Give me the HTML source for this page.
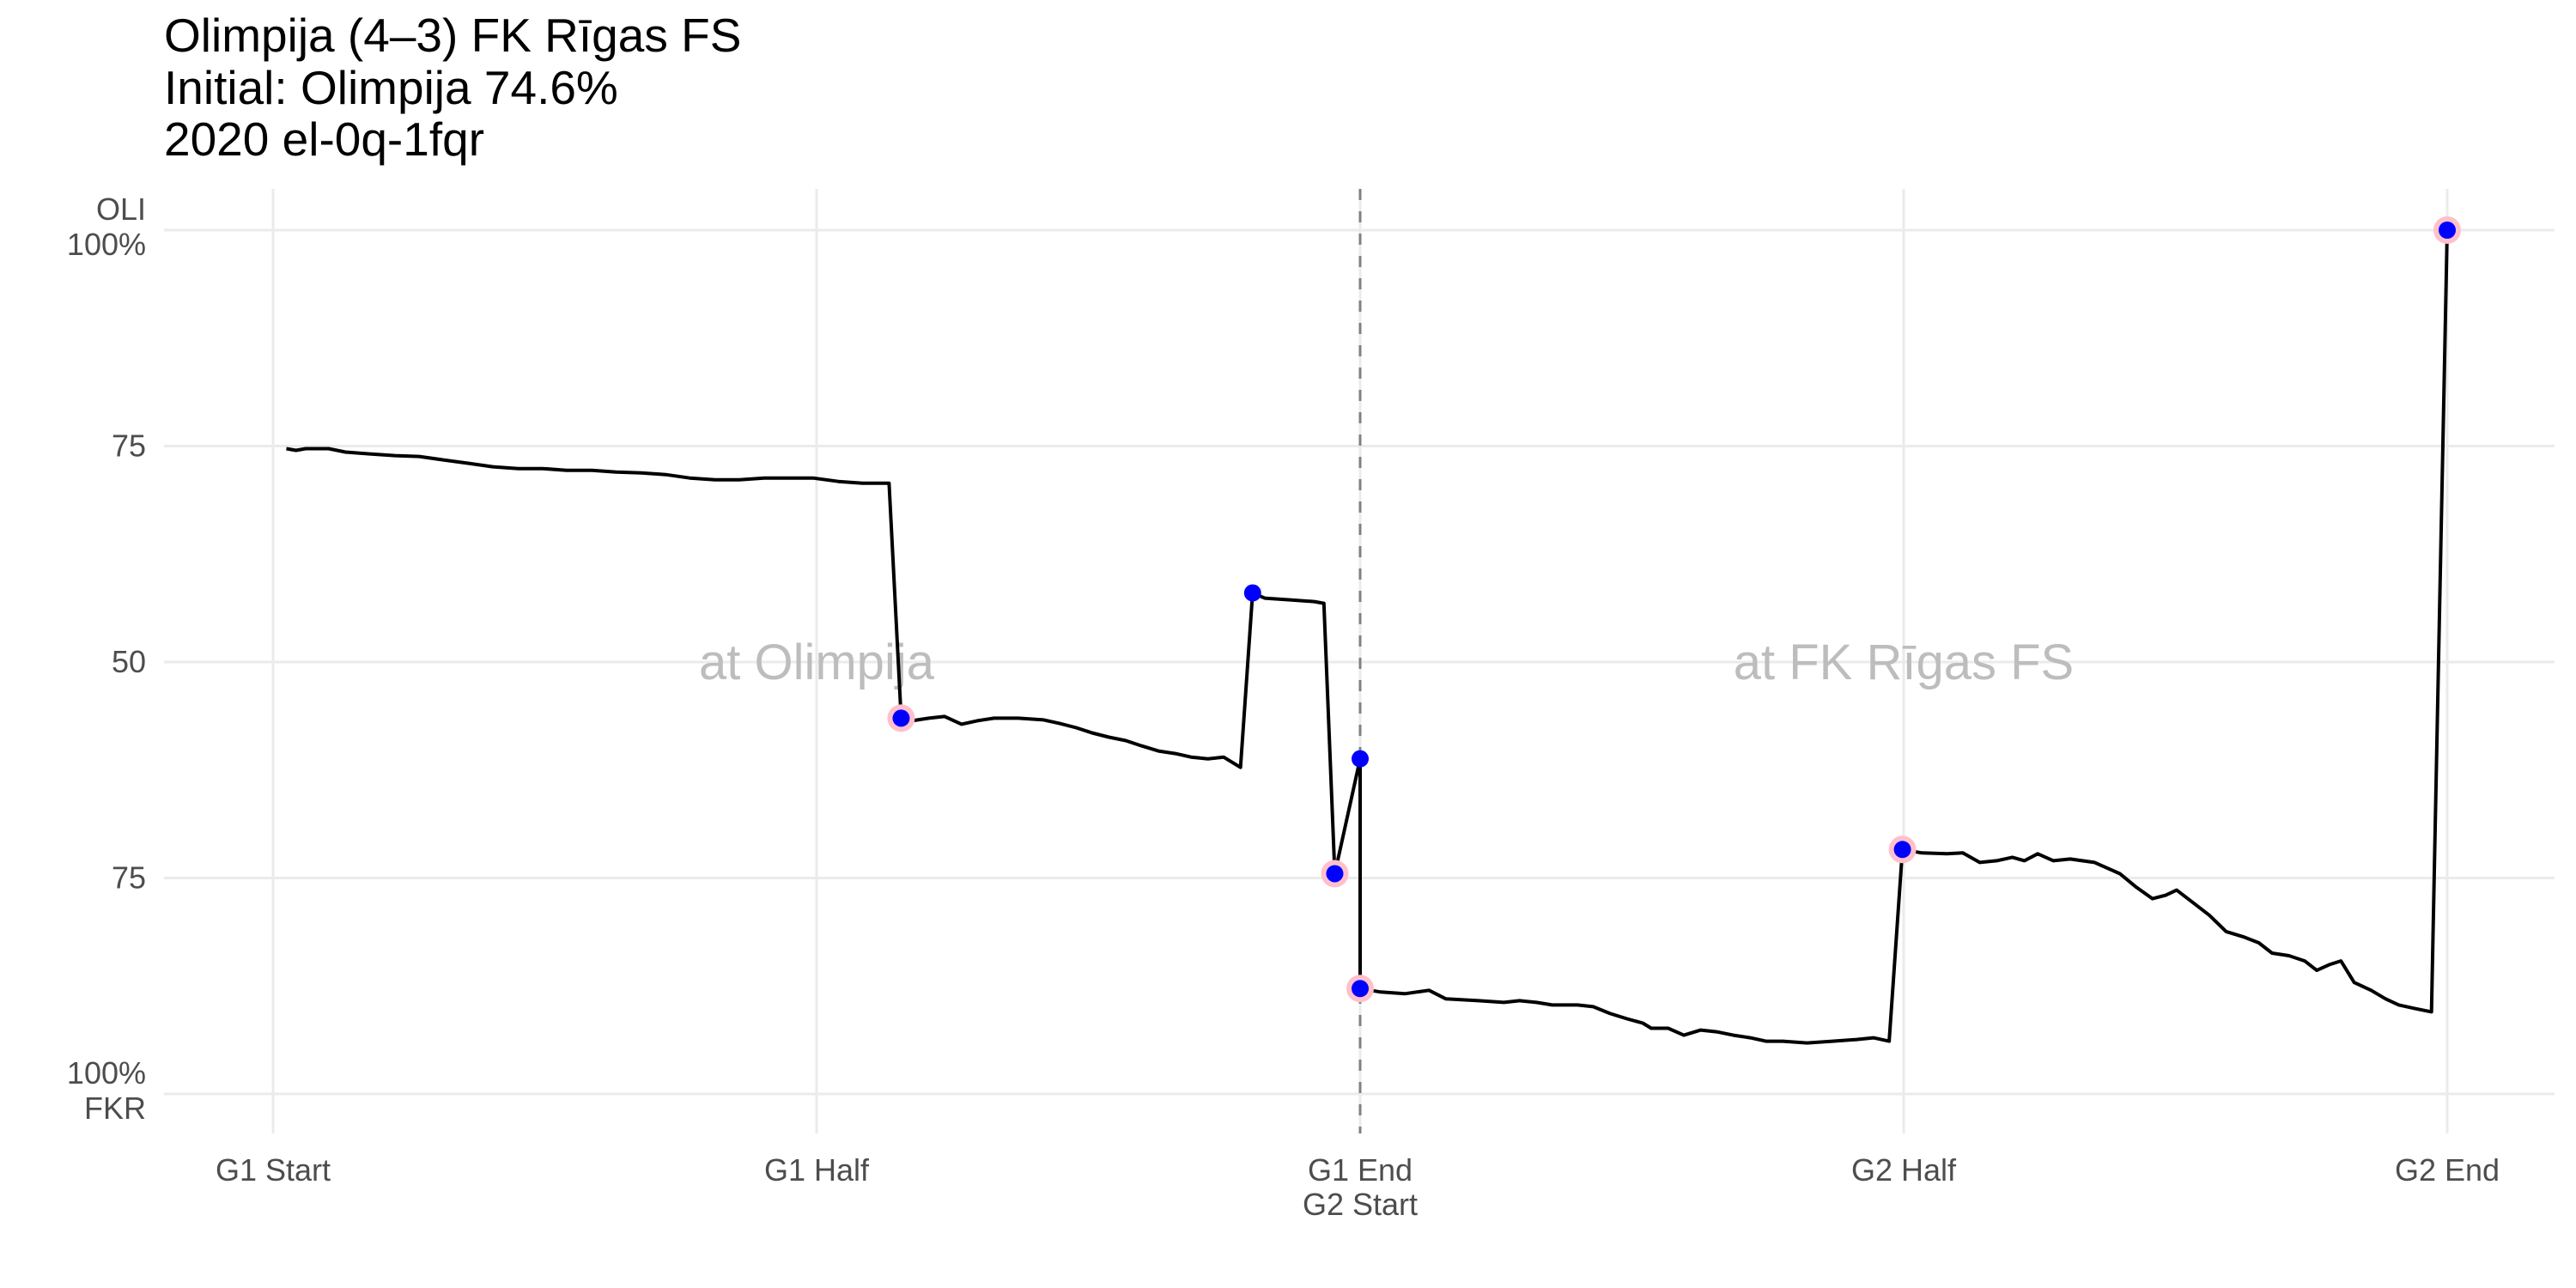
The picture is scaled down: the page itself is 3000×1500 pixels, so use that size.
<!DOCTYPE html>
<html><head><meta charset="utf-8"><style>
html,body{margin:0;padding:0;background:#fff;}
svg{display:block;font-family:"Liberation Sans",sans-serif;}
</style></head><body>
<svg id="chart" width="3000" height="1500" viewBox="0 0 3000 1500">
<g>
<text x="191" y="60" font-size="55" fill="#000">Olimpija (4–3) FK Rīgas FS</text>
<text x="191" y="121" font-size="55" fill="#000">Initial: Olimpija 74.6%</text>
<text x="191" y="181" font-size="55" fill="#000">2020 el-0q-1fqr</text>
</g>
<g id="grid"></g>
<g id="annot"></g>
<g id="axes"></g>
<g id="series"></g>
</svg>
<script>
const xTickVals=[0,45,90,135,180];
const xTickLabels=[["G1 Start"],["G1 Half"],["G1 End","G2 Start"],["G2 Half"],["G2 End"]];
const yTickVals=[100,75,50,25,0];
const yTickLabels=[["OLI","100%"],["75"],["50"],["75"],["100%","FKR"]];
const minutes=[1.1,1.9,2.7,4.6,6.0,8.0,10.1,12.1,14.1,16.2,18.2,20.3,22.3,24.3,26.4,28.4,30.5,32.5,34.5,36.6,38.6,40.7,42.7,44.7,46.8,48.8,51.0,52.0,52.9,54.3,55.6,57.0,58.3,59.7,61.7,63.8,65.1,66.5,67.8,69.2,70.6,71.9,73.3,74.7,76.0,77.4,78.7,80.1,81.1,82.1,84.2,86.2,87.0,87.9,90.0,90.0,91.7,93.7,95.7,97.1,99.8,101.9,103.2,104.6,105.9,108.0,109.3,110.7,112.1,113.4,114.1,115.5,116.8,118.2,119.5,120.9,122.3,123.6,125.0,127.0,129.1,131.1,132.5,133.8,134.9,136.5,138.6,139.9,141.3,142.7,144.0,145.0,146.1,147.4,148.8,150.8,152.9,154.2,155.6,156.7,157.6,159.0,160.3,161.7,163.1,164.4,165.5,166.9,168.2,169.2,170.3,171.2,172.3,173.7,174.9,176.0,177.3,178.7,180.0];
const winProb=[74.7,74.5,74.7,74.7,74.3,74.1,73.9,73.8,73.4,73.0,72.6,72.4,72.4,72.2,72.2,72.0,71.9,71.7,71.3,71.1,71.1,71.3,71.3,71.3,70.9,70.7,70.7,43.5,43.2,43.5,43.7,42.8,43.2,43.5,43.5,43.3,42.9,42.4,41.8,41.3,40.9,40.3,39.7,39.4,39.0,38.8,39.0,37.8,58.0,57.4,57.2,57.0,56.8,25.5,38.8,12.2,11.8,11.6,12.0,11.0,10.8,10.6,10.8,10.6,10.3,10.3,10.1,9.3,8.7,8.2,7.6,7.6,6.8,7.4,7.2,6.8,6.5,6.1,6.1,5.9,6.1,6.3,6.5,6.1,28.3,27.9,27.8,27.9,26.8,27.0,27.4,27.0,27.8,27.0,27.2,26.8,25.5,24.0,22.6,23.0,23.6,22.1,20.7,18.8,18.2,17.5,16.3,16.0,15.4,14.3,15.0,15.4,12.9,12.0,11.0,10.3,9.9,9.5,100];
const goalMinutes=[52.0,81.1,87.9,90.0,90.0,134.9,180.0];
const goalProb=[43.5,58.0,25.5,38.8,12.2,28.3,100];
const goalPink=[true,false,true,false,true,true,true];
const venueLabels=["at Olimpija","at FK Rīgas FS"];
const venueMinutes=[45,135];

const NS="http://www.w3.org/2000/svg";
const X0=191,X1=2975,Y0=220,Y1=1320;
function sx(t){return 318+t*(2850-318)/180;}
function sy(p){return 1274-p*(1274-268)/100;}
function mk(tag,attrs,parent){const e=document.createElementNS(NS,tag);for(const k in attrs)e.setAttribute(k,attrs[k]);parent.appendChild(e);return e;}
const grid=document.getElementById('grid'),axes=document.getElementById('axes'),ser=document.getElementById('series'),ann=document.getElementById('annot');
xTickVals.forEach((v,i)=>{
  const l=mk('line',{x1:sx(v),x2:sx(v),y1:Y0,y2:Y1,stroke:'#ebebeb','stroke-width':3},grid);
  
  
  xTickLabels[i].forEach((s,j)=>{
    const t=mk('text',{x:sx(v),y:1375+j*40,'font-size':36,fill:'#4d4d4d','text-anchor':'middle'},axes);
    t.textContent=s;
    
    
  });
});
yTickVals.forEach((v,i)=>{
  const l=mk('line',{x1:X0,x2:X1,y1:sy(v),y2:sy(v),stroke:'#ebebeb','stroke-width':3},grid);
  
  
  const lab=yTickLabels[i];
  const base=lab.length===1?sy(v)+12:sy(v)-12;
  lab.forEach((s,j)=>{
    const t=mk('text',{x:170,y:base+j*41,'font-size':36,fill:'#4d4d4d','text-anchor':'end'},axes);
    t.textContent=s;
    
    
  });
});
venueLabels.forEach((s,i)=>{
  const t=mk('text',{x:sx(venueMinutes[i]),y:sy(50)+20,'font-size':58,fill:'#bdbdbd','text-anchor':'middle'},ann);
  t.textContent=s;
  
  
});
const dl=mk('line',{x1:sx(90),x2:sx(90),y1:Y0,y2:Y1,stroke:'#808080','stroke-width':3,'stroke-dasharray':'13,13'},axes);


const pts=minutes.map((m,i)=>sx(m).toFixed(1)+','+sy(winProb[i]).toFixed(1)).join(' ');
const pl=mk('polyline',{points:pts,fill:'none',stroke:'#000','stroke-width':4,'stroke-linejoin':'round'},ser);


goalMinutes.forEach((m,i)=>{
  if(goalPink[i]){
    const c=mk('circle',{cx:sx(m),cy:sy(goalProb[i]),r:16,fill:'#ffc0cb'},ser);
    
    
  }
  const c2=mk('circle',{cx:sx(m),cy:sy(goalProb[i]),r:10,fill:'#0000ff'},ser);
  
  
});
</script>
</body></html>
